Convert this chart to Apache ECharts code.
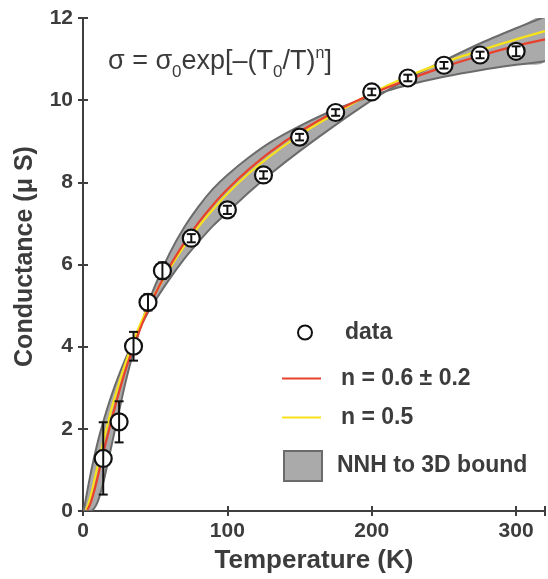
<!DOCTYPE html>
<html><head><meta charset="utf-8">
<script src="https://cdn.jsdelivr.net/npm/echarts/dist/echarts.min.js"></script>
<style>html,body{margin:0;padding:0;background:#fff}#c{width:548px;height:579px}</style>
</head><body><div id="c"></div>
<script>
// measured data (temperature K, conductance uS, error)
const dataT = [14, 25, 35, 45, 55, 75, 100, 125, 150, 175, 200, 225, 250, 275, 300];
const dataG = [1.28, 2.17, 4.01, 5.08, 5.85, 6.64, 7.33, 8.18, 9.10, 9.70, 10.20, 10.54, 10.85, 11.10, 11.19];
const dataErr = [0.88, 0.50, 0.35, 0.20, 0.20, 0.10, 0.10, 0.09, 0.08, 0.08, 0.08, 0.08, 0.08, 0.08, 0.12];

// fit n = 0.6 (red)
const redT = [3, 4, 5, 6, 8, 10, 12, 15, 20, 25, 30, 35, 40, 45, 50, 60, 70, 80, 90, 100, 115, 130, 150, 175, 200, 225, 250, 275, 300, 320];
const redG = [0.03, 0.09, 0.17, 0.27, 0.52, 0.80, 1.10, 1.55, 2.25, 2.90, 3.49, 3.99, 4.47, 4.89, 5.28, 5.95, 6.52, 7.02, 7.45, 7.83, 8.32, 8.75, 9.23, 9.73, 10.15, 10.50, 10.81, 11.08, 11.32, 11.48];

// fit n = 0.5 (yellow)
const yelT = [2, 3, 4, 6, 8, 10, 12, 15, 20, 25, 30, 35, 40, 45, 50, 60, 70, 80, 90, 100, 115, 130, 150, 175, 200, 225, 250, 275, 300, 320];
const yelG = [0.03, 0.10, 0.20, 0.46, 0.77, 1.08, 1.39, 1.83, 2.52, 3.12, 3.66, 4.15, 4.58, 4.96, 5.30, 5.90, 6.44, 6.92, 7.34, 7.72, 8.22, 8.65, 9.15, 9.68, 10.17, 10.58, 10.92, 11.21, 11.48, 11.68];

// band: 3D bound and NNH bound
const bandT = [0, 1, 2, 3, 4, 6, 8, 10, 12, 15, 20, 25, 30, 35, 40, 45, 50, 60, 70, 80, 90, 100, 115, 130, 150, 175, 200, 210, 225, 250, 275, 300, 320];
const bound3D = [0, 0.11, 0.30, 0.49, 0.68, 1.03, 1.35, 1.65, 1.92, 2.29, 2.84, 3.32, 3.75, 4.14, 4.50, 4.83, 5.12, 5.65, 6.13, 6.55, 6.94, 7.27, 7.76, 8.21, 8.76, 9.40, 10.00, 10.22, 10.52, 10.96, 11.38, 11.75, 12.03];
const boundNNH = [0, 0, 0, 0, 0, 0.01, 0.08, 0.21, 0.42, 0.83, 1.63, 2.44, 3.21, 3.89, 4.50, 5.03, 5.49, 6.27, 6.90, 7.41, 7.84, 8.18, 8.61, 8.98, 9.37, 9.78, 10.10, 10.22, 10.37, 10.57, 10.73, 10.86, 10.95];

const xTicks = [0, 100, 200, 300];
const yTicks = [0, 2, 4, 6, 8, 10, 12];

const FONT = '"Liberation Sans", Arial, sans-serif';
const TXT = '#3c3c3c';
const AX = '#3f3f3f';
const RED = '#e8412c', YEL = '#f7e21b', BAND = '#aaaaaa', EDGE = '#6b6b6b';

const chart = echarts.init(document.getElementById('c'), null, {renderer: 'canvas'});
const axisCommon = {
  axisLine: {show: true, lineStyle: {color: AX, width: 2}},
  axisTick: {show: true, inside: true, length: 5, lineStyle: {color: AX, width: 2}},
  splitLine: {show: false}
};
chart.setOption({
  animation: false,
  grid: {left: 83, top: 18, right: -5, bottom: 68, containLabel: false},
  xAxis: [
    Object.assign({
      type: 'value', min: 0, max: 320, interval: 100, position: 'bottom',
      name: 'Temperature (K)', nameLocation: 'middle', nameGap: 37,
      nameTextStyle: {fontFamily: FONT, fontWeight: 'bold', fontSize: 26, color: TXT},
      axisLabel: {fontFamily: FONT, fontWeight: 'bold', fontSize: 21, color: TXT, margin: 10,
        formatter: v => xTicks.indexOf(v) >= 0 ? String(v) : ''}
    }, axisCommon),
    Object.assign({
      type: 'value', min: 0, max: 320, interval: 100, position: 'top',
      axisLabel: {show: false}
    }, axisCommon)
  ],
  yAxis: [
    Object.assign({
      type: 'value', min: 0, max: 12, interval: 2, position: 'left',
      name: 'Conductance (μ S)', nameLocation: 'middle', nameGap: 45,
      nameTextStyle: {fontFamily: FONT, fontWeight: 'bold', fontSize: 25, color: TXT, padding: [0, 0, 0, 16]},
      axisLabel: {fontFamily: FONT, fontWeight: 'bold', fontSize: 21, color: TXT, margin: 10,
        formatter: v => yTicks.indexOf(v) >= 0 ? String(v) : ''}
    }, axisCommon),
    Object.assign({
      type: 'value', min: 0, max: 12, interval: 2, position: 'right',
      axisLabel: {show: false}
    }, axisCommon)
  ],
  legend: [
    {data: [{name: 'data', icon: 'circle', itemStyle: {color: '#fff', borderColor: '#111', borderWidth: 2}}],
     left: 297, top: 321, padding: 0, itemWidth: 14, itemHeight: 14, selectedMode: false,
     textStyle: {fontFamily: FONT, fontWeight: 'bold', fontSize: 23, color: TXT, padding: [0, 0, 0, 28]}},
    {data: [{name: 'n = 0.6 ± 0.2', icon: 'rect', itemStyle: {color: RED}}],
     left: 282, top: 367, padding: 0, itemWidth: 39, itemHeight: 2, selectedMode: false,
     textStyle: {fontFamily: FONT, fontWeight: 'bold', fontSize: 23, color: TXT, padding: [0, 0, 0, 15]}},
    {data: [{name: 'n = 0.5', icon: 'rect', itemStyle: {color: YEL}}],
     left: 282, top: 406, padding: 0, itemWidth: 39, itemHeight: 2, selectedMode: false,
     textStyle: {fontFamily: FONT, fontWeight: 'bold', fontSize: 23, color: TXT, padding: [0, 0, 0, 15]}},
    {data: [{name: 'NNH to 3D bound', icon: 'rect', itemStyle: {color: BAND, borderColor: EDGE, borderWidth: 2}}],
     left: 283, top: 450, padding: 0, itemWidth: 38, itemHeight: 30, selectedMode: false,
     textStyle: {fontFamily: FONT, fontWeight: 'bold', fontSize: 23, color: TXT, padding: [0, 0, 0, 10]}}
  ],
  graphic: [{
    type: 'text', left: 108, top: 46, z: 10,
    style: {
      text: 'σ = σ{s|0}exp[–(T{s|0}/T){p|n}]',
      font: '27px ' + FONT, fill: '#3b3b3b',
      rich: {
        s: {fontSize: 17, fontFamily: 'Liberation Sans', fill: '#3b3b3b', padding: [21, 0, 0, 0]},
        p: {fontSize: 16, fontFamily: 'Liberation Sans', fill: '#3b3b3b', padding: [0, 0, 15, 0]}
      }
    }
  }],
  series: [
    {
      name: 'NNH to 3D bound', type: 'custom', z: 2, silent: true, clip: true,
      itemStyle: {color: BAND},
      data: bandT.map((t, i) => [t, bound3D[i], boundNNH[i]]),
      renderItem: function (params, api) {
        if (params.dataIndexInside !== 0) return null;
        const n = params.dataInsideLength;
        const P = [], Q = [];
        for (let k = 0; k < n; k++) {
          const t = api.value(0, k);
          P.push(api.coord([t, api.value(1, k)]));
          Q.push(api.coord([t, api.value(2, k)]));
        }
        return {type: 'group', children: [
          {type: 'polygon', shape: {points: P.concat(Q.slice().reverse()), smooth: 0.3}, style: {fill: BAND, stroke: null}},
          {type: 'polyline', shape: {points: P, smooth: 0.3}, style: {stroke: EDGE, lineWidth: 2, fill: null}},
          {type: 'polyline', shape: {points: Q, smooth: 0.3}, style: {stroke: EDGE, lineWidth: 2, fill: null}}
        ]};
      }
    },
    {
      name: 'n = 0.5', type: 'line', data: yelT.map((t, i) => [t, yelG[i]]), smooth: 0.3,
      symbol: 'none', z: 4, lineStyle: {color: YEL, width: 2.2}, itemStyle: {color: YEL}
    },
    {
      name: 'n = 0.6 ± 0.2', type: 'line', data: redT.map((t, i) => [t, redG[i]]), smooth: 0.3,
      symbol: 'none', z: 5, lineStyle: {color: RED, width: 2.2}, itemStyle: {color: RED}
    },
    {
      name: 'data', type: 'scatter', data: dataT.map((t, i) => [t, dataG[i]]),
      symbol: 'circle', symbolSize: 17, z: 6,
      itemStyle: {color: '#fff', borderColor: '#111', borderWidth: 2.2, opacity: 1}
    },
    {
      name: 'err', type: 'custom', z: 7, silent: true,
      data: dataT.map((t, i) => [t, dataG[i], dataErr[i]]),
      renderItem: function (params, api) {
        const x = api.value(0), y = api.value(1), e = api.value(2);
        const top = api.coord([x, y + e]);
        const bot = api.coord([x, y - e]);
        const w = 4.5;
        const st = {stroke: '#111', lineWidth: 2, fill: null};
        return {type: 'group', children: [
          {type: 'line', shape: {x1: top[0], y1: top[1], x2: bot[0], y2: bot[1]}, style: st},
          {type: 'line', shape: {x1: top[0] - w, y1: top[1], x2: top[0] + w, y2: top[1]}, style: st},
          {type: 'line', shape: {x1: bot[0] - w, y1: bot[1], x2: bot[0] + w, y2: bot[1]}, style: st}
        ]};
      }
    }
  ]
});
</script></body></html>
